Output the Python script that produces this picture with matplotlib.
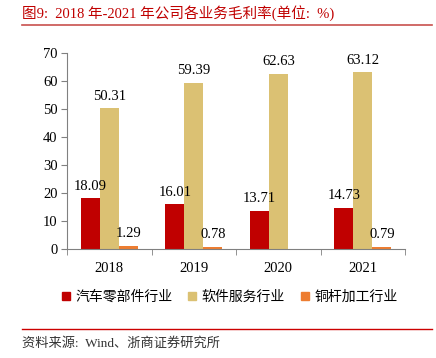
import numpy as np
import matplotlib
matplotlib.use('Agg')
from matplotlib import pyplot as plt
from matplotlib.lines import Line2D

plt.rcParams['font.family'] = ['Liberation Serif', 'Noto Sans CJK SC']

# Data
years = ['2018', '2019', '2020', '2021']
auto_parts = [18.09, 16.01, 13.71, 14.73]
software = [50.31, 59.39, 62.63, 63.12]
copper_rod = [1.29, 0.78, np.nan, 0.79]
series_names = ['汽车零部件行业', '软件服务行业', '铜杆加工行业']
colors = ['#C00000', '#DBC173', '#ED7D31']

fig = plt.figure(figsize=(4.36, 3.58), dpi=100)
ax = fig.add_axes([0.154, 0.304, 0.775, 0.548])

x = np.arange(len(years))
w = 0.225
for i, (vals, c) in enumerate(zip([auto_parts, software, copper_rod], colors)):
    pos = x + (i - 1) * w
    ax.bar(pos, vals, width=w, color=c, zorder=2)
    for p, v in zip(pos, vals):
        if not np.isnan(v):
            ax.annotate(f'{v:.2f}', (p, v), xytext=(0, 4), textcoords='offset points',
                        ha='center', va='bottom', fontsize=10.5)

ax.set_xlim(-0.5, len(years) - 0.5)
ax.set_ylim(0, 70)
ax.set_yticks(range(0, 71, 10))
ax.set_xticks(x)
ax.set_xticklabels(years)
ax.set_xticks(np.arange(-0.5, len(years)), minor=True)
ax.tick_params(axis='x', which='major', length=0, pad=9, labelsize=10.5)
ax.tick_params(axis='x', which='minor', length=4, color='#808080')
ax.tick_params(axis='y', length=4, color='#808080', labelsize=10.5, pad=3)
for s in ['top', 'right']:
    ax.spines[s].set_visible(False)
for s in ['left', 'bottom']:
    ax.spines[s].set_color('#808080')

handles = [Line2D([], [], marker='s', linestyle='none', markersize=6,
                  markerfacecolor=c, markeredgecolor=c) for c in colors]
fig.legend(handles, series_names, loc='center', bbox_to_anchor=(0.525, 0.17), ncol=3,
           frameon=False, handlelength=0.8, handletextpad=0.3, columnspacing=1.0,
           prop={'family': ['Noto Sans CJK SC'], 'size': 10})

fig.text(0.05, 0.963, '图9:  2018 年-2021 年公司各业务毛利率(单位:  %)', color='#C00000',
         fontsize=10.5, va='center', ha='left')
fig.add_artist(Line2D([0.05, 0.99], [0.93, 0.93], color='#C8504E', lw=1.2))
fig.add_artist(Line2D([0.05, 0.99], [0.081, 0.081], color='#CC0000', lw=1.0))
fig.text(0.05, 0.042, '资料来源:  Wind、浙商证券研究所', color='#333333', fontsize=9.5,
         va='center', ha='left')

fig.savefig('out.png', dpi=100)
